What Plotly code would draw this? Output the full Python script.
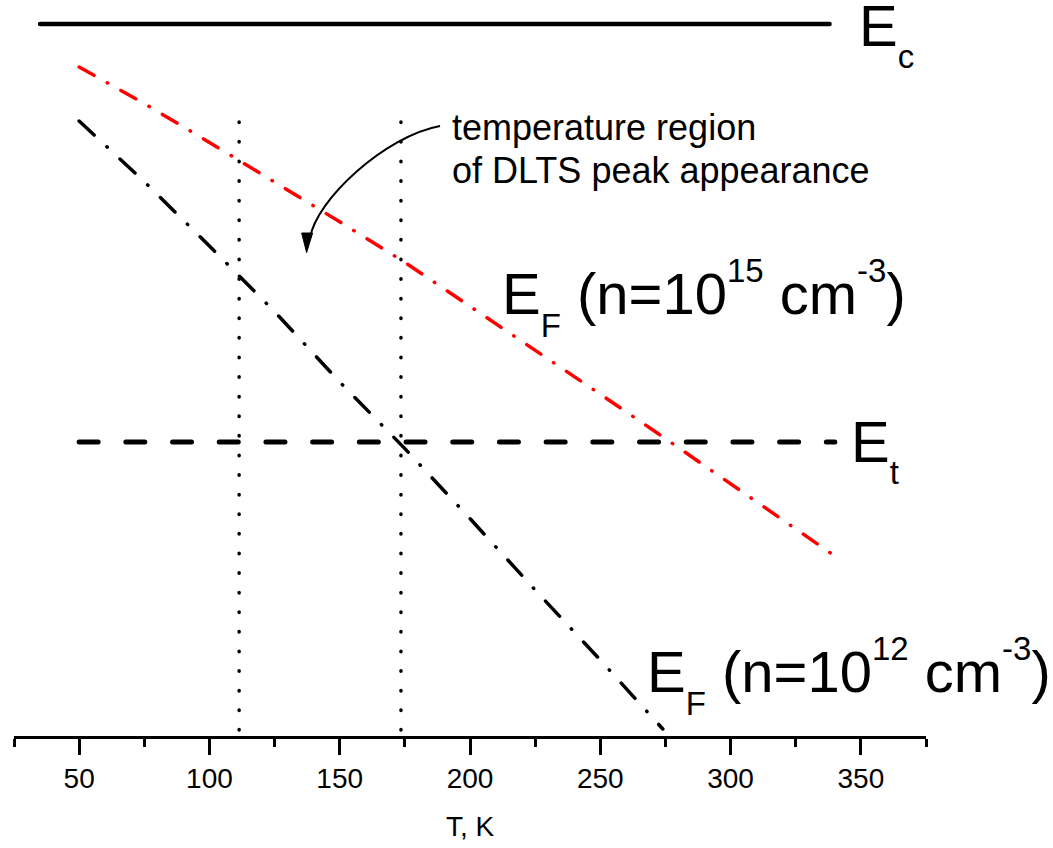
import plotly.graph_objects as go

# ---------------- data ----------------
# temperature (K) and energy (eV, relative to Ec)
T_ec = [35, 338]
E_c = 0.0

T_et = [50, 340]
E_t = -0.209

T_red = [50, 75, 100, 125, 150, 175, 200, 225, 250, 275, 300, 325, 340]
E_red = [-0.0215, -0.0398, -0.0592, -0.0789, -0.0989, -0.1192, -0.1410,
         -0.1633, -0.1851, -0.2073, -0.2298, -0.2523, -0.2660]

T_blk = [50, 75, 100, 125, 150, 175, 200, 225, 250, 274]
E_blk = [-0.0485, -0.0788, -0.1110, -0.1438, -0.1790, -0.2123, -0.2473,
         -0.2830, -0.3180, -0.3525]

T_region = [111.4, 173.5]          # dotted verticals
E_region = [-0.049, -0.356]

x_range = [25, 375]
y_range = [-0.356, 0.012]

FONT = "Liberation Sans, Arial, sans-serif"

fig = go.Figure()

fig.add_trace(go.Scatter(x=T_ec, y=[E_c, E_c], mode="lines",
                         line=dict(color="black", width=4.5), hoverinfo="skip"))
fig.add_trace(go.Scatter(x=T_et, y=[E_t, E_t], mode="lines",
                         line=dict(color="black", width=5, dash="19px,27.7px"),
                         hoverinfo="skip"))
fig.add_trace(go.Scatter(x=T_red, y=E_red, mode="lines",
                         line=dict(color="#ff0000", width=3.5,
                                   dash="17px,15.2px,0.5px,15.2px"),
                         hoverinfo="skip"))
fig.add_trace(go.Scatter(x=T_blk, y=E_blk, mode="lines",
                         line=dict(color="black", width=3.5,
                                   dash="20.5px,17.4px,0.5px,17.4px"),
                         hoverinfo="skip"))
for t in T_region:
    fig.add_trace(go.Scatter(x=[t, t], y=E_region, mode="lines",
                             line=dict(color="black", width=3.5, dash="0.5px,19.1px"),
                             hoverinfo="skip"))

# curved arrow (annotation decoration)
arrow_path = "M 188.5,-0.051 C 167.4,-0.056 140.9,-0.088 138.6,-0.107"
fig.add_shape(type="path", path=arrow_path, xref="x", yref="y",
              line=dict(color="black", width=2))
head_path = "M 135.4,-0.1045 L 139.6,-0.1045 L 137.3,-0.1143 Z"
fig.add_shape(type="path", path=head_path, xref="x", yref="y",
              line=dict(color="black", width=1), fillcolor="black")

big = 58
SUB = "<sub><span style='font-size:33px;baseline-shift:-10px'>%s</span></sub>"
SUP = "<sup><span style='font-size:33px;baseline-shift:8px'>%s</span></sup>"

annotations = [
    dict(x=348.5, y=-0.0052, text="E" + SUB % "c"),
    dict(x=345.4, y=-0.213, text="E" + SUB % "t"),
    dict(x=211.5, y=-0.137,
         text="E" + SUB % "F" + " (n=10" + SUP % "15" + " cm" + SUP % "-3" + ")"),
    dict(x=267.2, y=-0.326,
         text="E" + SUB % "F" + " (n=10" + SUP % "12" + " cm" + SUP % "-3" + ")"),
]
for a in annotations:
    fig.add_annotation(x=a["x"], y=a["y"], xref="x", yref="y", text=a["text"],
                       showarrow=False, xanchor="left", yanchor="middle",
                       font=dict(family=FONT, size=big, color="black"))

note_lines = ["temperature region", "of DLTS peak appearance"]
note_y = [-0.0518, -0.0733]
for txt, yy in zip(note_lines, note_y):
    fig.add_annotation(x=192.3, y=yy, xref="x", yref="y", text=txt,
                       showarrow=False, xanchor="left", yanchor="middle", align="left",
                       font=dict(family=FONT, size=36, color="black"))

fig.update_xaxes(range=x_range, showline=True, linewidth=2.5, linecolor="black",
                 ticks="outside", ticklen=16, tickwidth=2.5, tickcolor="black",
                 tick0=50, dtick=50, showgrid=False, zeroline=False,
                 tickfont=dict(family=FONT, size=28, color="black"),
                 title=dict(text="T, K", font=dict(family=FONT, size=28, color="black"),
                            standoff=24),
                 minor=dict(ticks="outside", ticklen=8, tickwidth=2.5, tickcolor="black",
                            tick0=25, dtick=25, showgrid=False))
fig.update_yaxes(range=y_range, visible=False)

fig.update_layout(width=1053, height=848, showlegend=False,
                  margin=dict(l=14, r=127, t=0, b=112),
                  plot_bgcolor="white", paper_bgcolor="white")

fig.write_html("out.html",
               post_script="document.querySelectorAll('.scatterlayer .js-line').forEach(function(p){p.style.strokeLinecap='round';});")
